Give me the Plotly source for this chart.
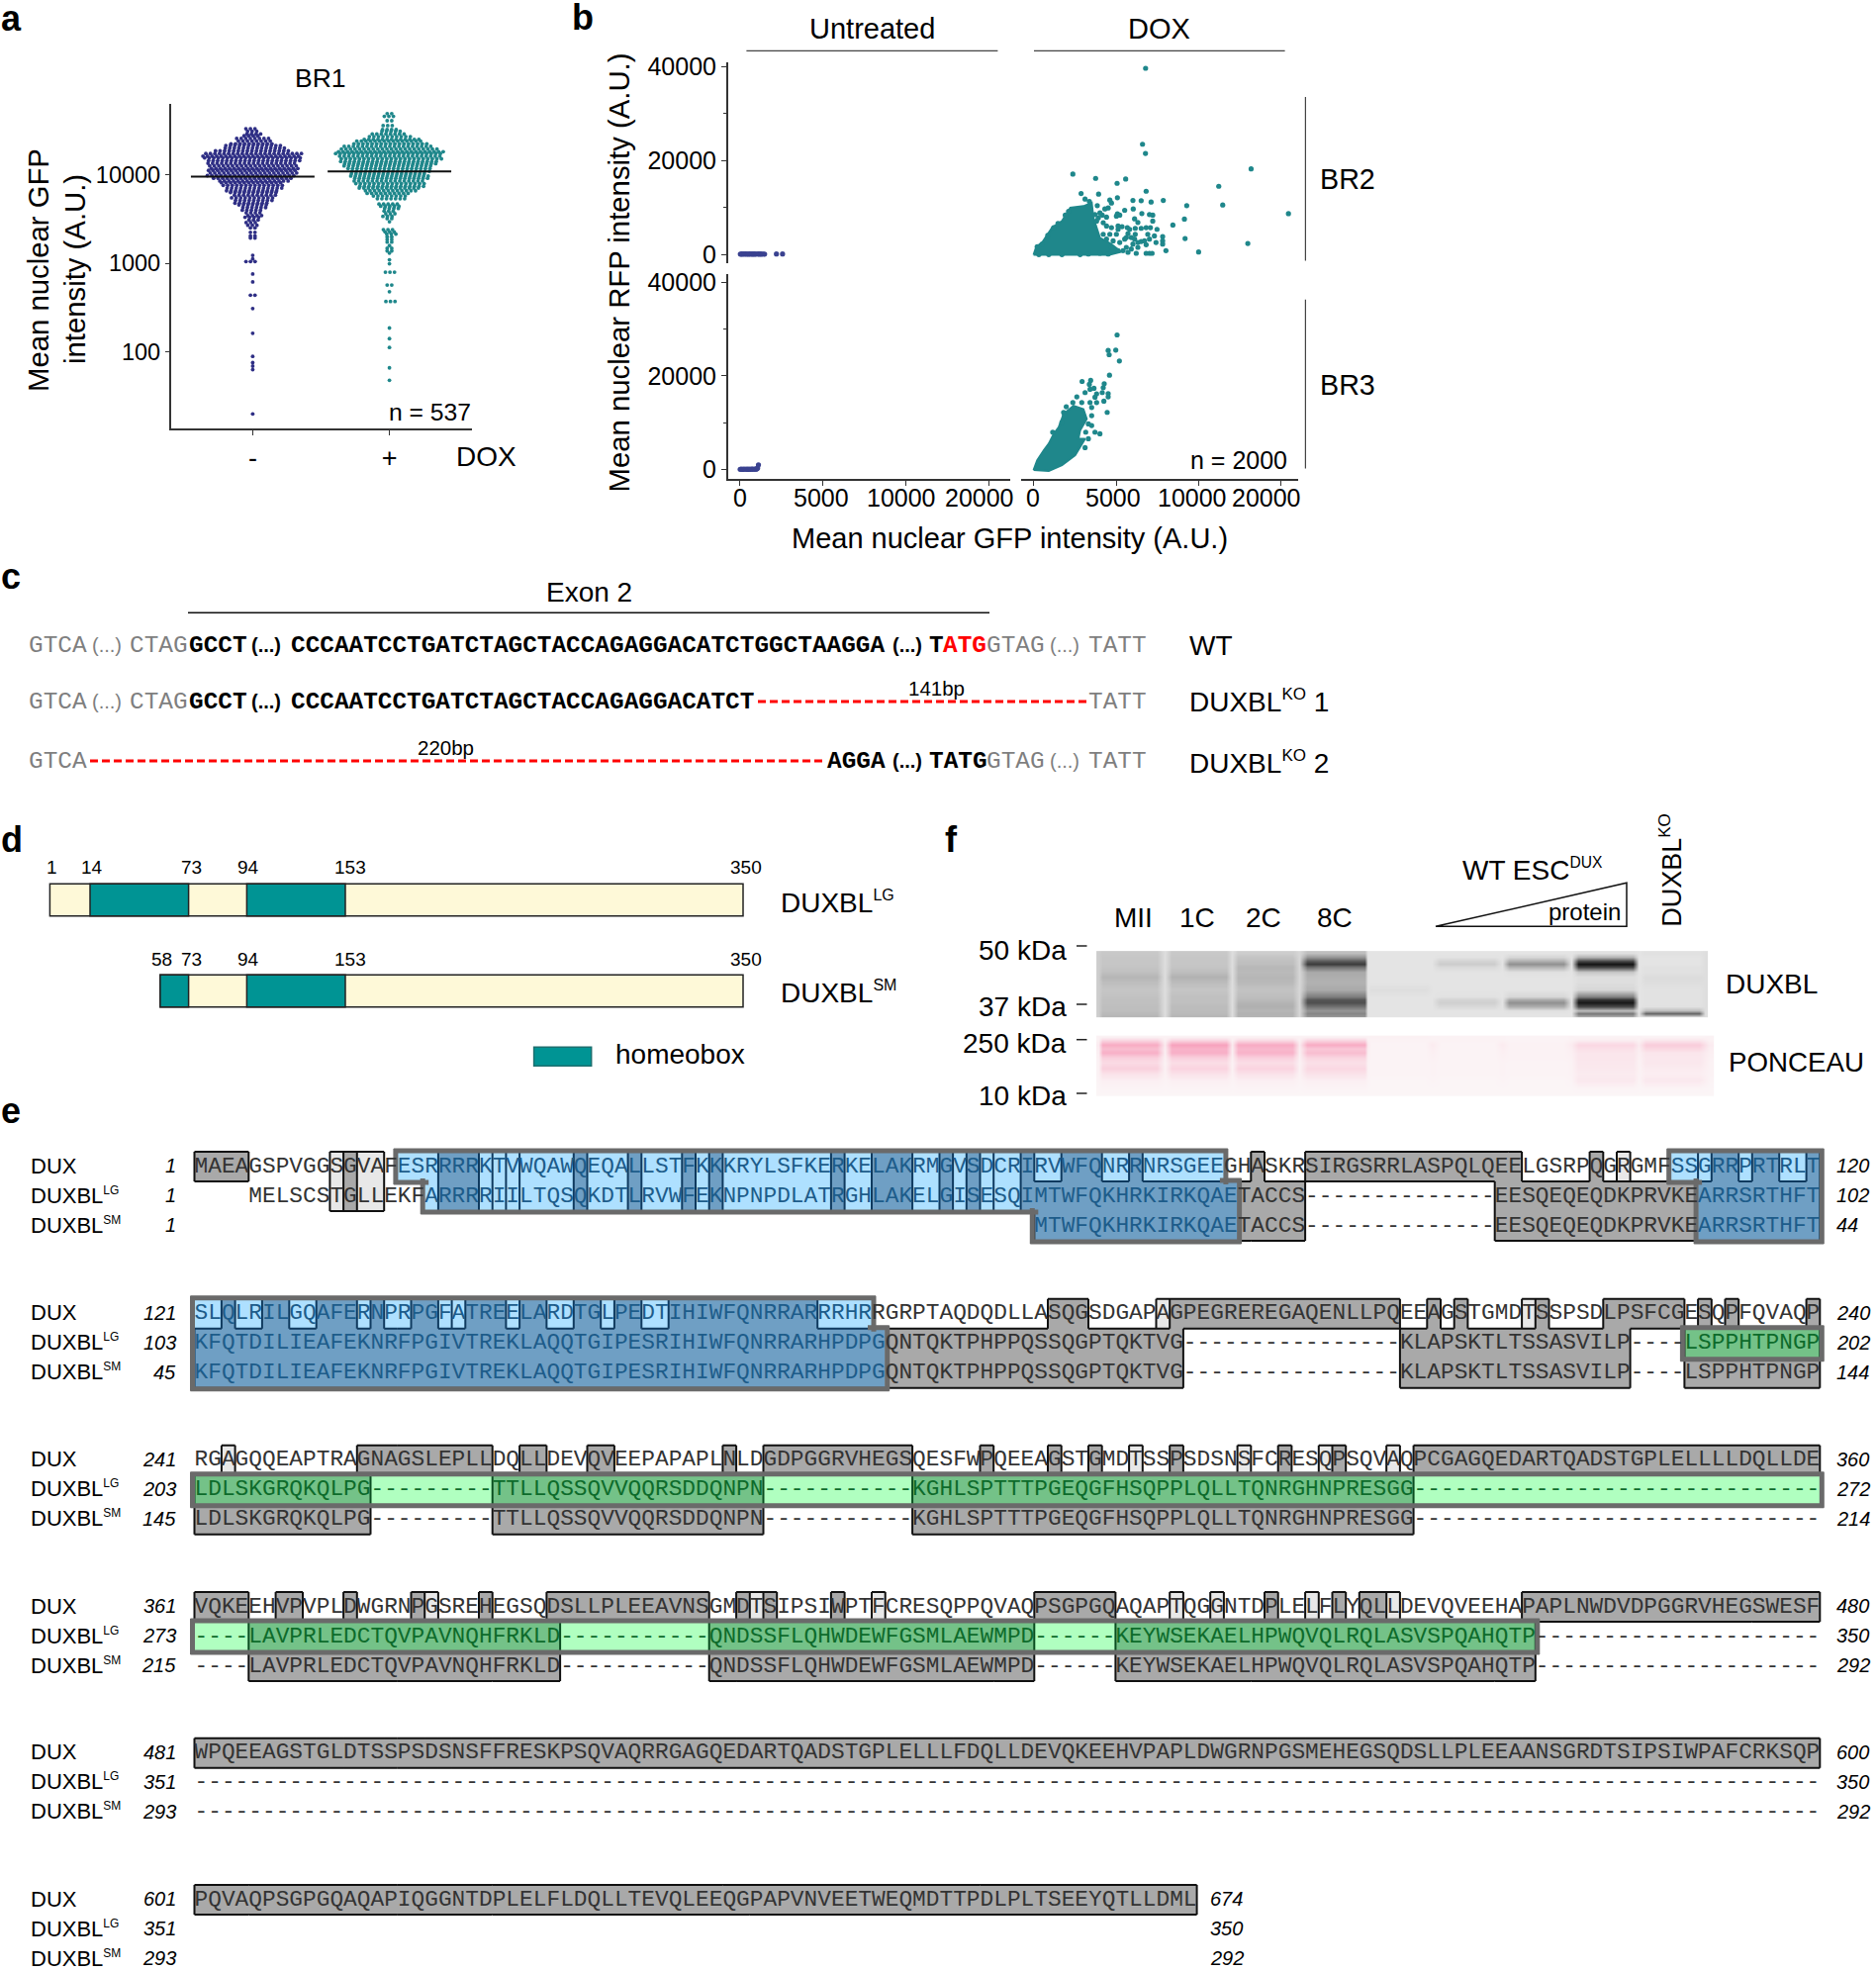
import numpy as np
import plotly.graph_objects as go

W, H = 1896, 1992
SANS = "Liberation Sans"
MONO = "Liberation Mono"
NAVY = "#2f2f85"
TEAL = "#1f878b"
BLUE_B = "#3a4290"

# ---- panel a: rows of the swarm (log10 GFP, dots in the row)
minus_log_gfp = [4.52, 4.49, 4.46, 4.44, 4.41, 4.38, 4.35, 4.33, 4.30, 4.27, 4.24, 4.21, 4.19, 4.16, 4.13, 4.10,
                 4.07, 4.05, 4.02, 3.99, 3.96, 3.93, 3.91, 3.88, 3.85, 3.82, 3.80, 3.77, 3.74, 3.71, 3.68, 3.66,
                 3.63, 3.60, 3.57, 3.54, 3.52, 3.49, 3.46, 3.43, 3.40, 3.35, 3.31, 3.285, 3.09, 3.05, 3.02, 2.88,
                 2.79, 2.64, 2.49, 2.21, 1.95, 1.88, 1.84, 1.80, 1.30]
minus_counts = [3, 3, 4, 4, 8, 8, 10, 13, 14, 17, 22, 22, 22, 21, 20, 20,
                20, 20, 20, 20, 18, 16, 14, 14, 13, 12, 11, 10, 10, 9, 8, 7,
                6, 5, 4, 4, 4, 3, 3, 3, 2, 2, 2, 2, 1, 1, 3, 1,
                1, 2, 1, 1, 1, 1, 1, 1, 1]
plus_log_gfp = [4.69, 4.66, 4.61, 4.555, 4.51, 4.49, 4.46, 4.43, 4.40, 4.38, 4.35, 4.32, 4.29, 4.26, 4.24, 4.21,
                4.18, 4.15, 4.125, 4.10, 4.07, 4.04, 4.01, 3.985, 3.96, 3.93, 3.90, 3.87, 3.85, 3.82, 3.79, 3.76,
                3.73, 3.67, 3.645, 3.62, 3.59, 3.56, 3.53, 3.505, 3.47, 3.38, 3.355, 3.33, 3.30, 3.27, 3.24, 3.20,
                3.17, 3.14, 3.115, 3.04, 2.995, 2.90, 2.755, 2.68, 2.57, 2.27, 2.15, 2.05, 1.82, 1.68]
plus_counts = [2, 3, 2, 3, 4, 5, 8, 10, 13, 15, 17, 20, 22, 24, 24, 23,
               23, 22, 21, 20, 19, 18, 17, 18, 17, 16, 16, 15, 14, 12, 10, 8,
               7, 5, 5, 4, 3, 3, 3, 2, 1, 3, 3, 3, 2, 2, 2, 1,
               2, 2, 1, 1, 1, 3, 2, 1, 3, 1, 1, 1, 1, 1]
median_minus = 9500
median_plus = 10900

# ---- panel b
br2_untreated_gfp = [20, 90, 150, 230, 310, 360, 440, 510, 570, 650, 720, 790, 860, 930, 1010, 1090, 1160, 1240,
                     1310, 1400, 1480, 2190, 2560]
br2_untreated_rfp = [40, 60, 20, 90, 30, 70, 50, 10, 80, 40, 60, 20, 70, 30, 50, 80, 20, 60, 40, 50, 30, 60, 70]
br3_untreated_gfp = [10, 80, 170, 240, 320, 400, 470, 540, 620, 690, 760, 840, 900, 960, 1020, 1060, 1110]
br3_untreated_rfp = [10, 60, 0, 80, 30, 50, 0, 70, 20, 40, 60, 30, 80, 50, 120, 300, 980]

# solid core of each DOX cloud, drawn as one shape; the separate dots follow
br2_dox_hull_gfp = [0, 164, 524, 824, 1124, 1724, 2224, 3024, 3524, 3624, 3824, 4020, 4700, 5300, 4600, 0]
br2_dox_hull_rfp = [-100, 1616, 2529, 4145, 5690, 7095, 9905, 10257, 10959, 7798, 5690, 3500, 2170, 520, -100, -100]
br2_dox_gfp = [6787, 6600, 6780, 2380, 3760, 5060, 5580, 6820, 2880, 3940, 5080, 3120, 3380, 4620, 4720, 6020, 6520,
               7120, 7860, 9280, 11460, 11220, 13180, 4520, 4320, 3860, 5520, 6040, 6560, 7020, 7220, 7220, 5080, 5220,
               5020, 6120, 6320, 4420, 4160, 4020, 9140, 8440, 9180, 12980, 10000, 8020, 7820, 7820, 7820, 7480, 7080,
               6820, 6520, 6160, 5680, 5820, 6920, 7320, 7020, 7420, 6160, 6120, 5620, 5520, 6520, 6820, 6020, 6320,
               6220, 6820, 7020, 7180, 5720, 5120, 4720, 5420, 5020, 5120, 4720, 4420, 4220, 4620, 4220, 4420, 4820,
               5220, 2120, 1920, 1480, 1220, 860, 520, 220, 3820, 3720, 3920, 4520, 3320, 4020, 2820, 1720, 920, 320,
               5360, 5120, 5720, 5920, 6320, 6720, 5620, 5920, 15443]
br2_dox_rfp = [39617, 23450, 21490, 17080, 16170, 15120, 16030, 13440, 12950, 12810, 12040, 11760, 11270, 11550, 10920,
               11480, 11410, 11130, 11480, 10360, 10500, 14490, 18200, 9870, 9660, 10360, 9380, 9660, 8680, 8470, 8330,
               7070, 8610, 8330, 8120, 7560, 6790, 7910, 8330, 8820, 7490, 6230, 3360, 2310, 490, 770, 3780, 2870, 2170,
               5320, 5670, 5670, 5530, 5530, 5670, 5320, 4270, 3920, 3220, 2520, 4270, 3220, 3570, 3220, 2730, 2030,
               2170, 1470, 210, 210, 210, 210, 420, 770, 1470, 770, 4270, 5320, 5670, 6020, 6720, 4270, 4270, 3220, 2870,
               2520, 9170, 8330, 6580, 5670, 4060, 2170, 1610, 7070, 8470, 7770, 70, 70, 210, -70, -70, -70, -70, 5880,
               6020, 4410, 3570, 2520, 2870, 1470, 1120, 8659]

br3_dox_hull_gfp = [0, 220, 620, 920, 1220, 1520, 1820, 2420, 3020, 3220, 2820, 2720, 3120, 2520, 1720, 920, 0]
br3_dox_hull_rfp = [-140, 1970, 4090, 5500, 7610, 9020, 11840, 13600, 12900, 10790, 8320, 6560, 6560, 3030, 920, -350, -140]
br3_dox_gfp = [5060, 4520, 4580, 4980, 5200, 4600, 2940, 3460, 3380, 3420, 4280, 4220, 3660, 4160, 4520, 4520, 3820,
               3720, 3120, 2620, 2380, 1980, 1820, 4260, 4460, 3820, 3420, 3520, 3520, 3320, 3520, 3160, 3720, 4020, 3320,
               3120, 1160, 1720, 1880, 2920]
br3_dox_rfp = [28760, 25450, 24530, 25520, 23200, 20160, 18820, 19040, 18190, 17130, 18330, 17480, 17340, 16430, 16220,
               15510, 16150, 15440, 16430, 15510, 14310, 13400, 12200, 14590, 12200, 14310, 14310, 13250, 11490, 9730,
               9380, 7970, 7970, 7610, 6560, 4650, 7970, 10080, 11490, 14310]

scatter_ticks = [0, 5000, 10000, 15000]
scatter_ticktext = ["0", "5000", "10000", "20000"]

# ---- panel d: residue number and where the schematic draws it
residue_marks = [1, 14, 58, 73, 94, 153, 350]
residue_px = [50.4, 91, 161.9, 190.6, 249.4, 349, 751]
lg_homeobox = [(14, 73), (94, 153)]
sm_homeobox = [(58, 73), (94, 153)]

# ---- panel e
seq_dux = [
    "MAEAGSPVGGSGVAFESRRRRKTVWQAWQEQALLSTFKKKRYLSFKERKELAKRMGVSDCRIRVWFQNRRNRSGEEGHASKRSIRGSRRLASPQLQEELGSRPQGRGMFSSGRRPRTRLT",
    "SLQLRILGQAFERNPRPGFATREELARDTGLPEDTIHIWFQNRRARRRHRRGRPTAQDQDLLASQGSDGAPAGPEGREREGAQENLLPQEEAGSTGMDTSSPSDLPSFCGESQPFQVAQP",
    "RGAGQQEAPTRAGNAGSLEPLLDQLLDEVQVEEPAPAPLNLDGDPGGRVHEGSQESFWPQEEAGSTGMDTSSPSDSNSFCRESQPSQVAQPCGAGQEDARTQADSTGPLELLLLDQLLDE",
    "VQKEEHVPVPLDWGRNPGSREHEGSQDSLLPLEEAVNSGMDTSIPSIWPTFCRESQPPQVAQPSGPGQAQAPTQGGNTDPLELFLYQLLDEVQVEEHAPAPLNWDVDPGGRVHEGSWESF",
    "WPQEEAGSTGLDTSSPSDSNSFFRESKPSQVAQRRGAGQEDARTQADSTGPLELLLFDQLLDEVQKEEHVPAPLDWGRNPGSMEHEGSQDSLLPLEEAANSGRDTSIPSIWPAFCRKSQP",
    "PQVAQPSGPGQAQAPIQGGNTDPLELFLDQLLTEVQLEEQGPAPVNVEETWEQMDTTPDLPLTSEEYQTLLDML",
]
seq_lg = [
    "    MELSCSTGLLEKFARRRRIILTQSQKDTLRVWFEKNPNPDLATRGHLAKELGISESQIMTWFQKHRKIRKQAETACCS--------------EESQEQEQDKPRVKEARRSRTHFT",
    "KFQTDILIEAFEKNRFPGIVTREKLAQQTGIPESRIHIWFQNRRARHPDPGQNTQKTPHPPQSSQGPTQKTVG----------------KLAPSKTLTSSASVILP----LSPPHTPNGP",
    "LDLSKGRQKQLPG---------TTLLQSSQVVQQRSDDQNPN-----------KGHLSPTTTPGEQGFHSQPPLQLLTQNRGHNPRESGG------------------------------",
    "----LAVPRLEDCTQVPAVNQHFRKLD-----------QNDSSFLQHWDEWFGSMLAEWMPD------KEYWSEKAELHPWQVQLRQLASVSPQAHQTP---------------------",
    "-" * 120,
    "",
]
seq_sm = [
    " " * 62 + "MTWFQKHRKIRKQAETACCS--------------EESQEQEQDKPRVKEARRSRTHFT",
    "KFQTDILIEAFEKNRFPGIVTREKLAQQTGIPESRIHIWFQNRRARHPDPGQNTQKTPHPPQSSQGPTQKTVG----------------KLAPSKTLTSSASVILP----LSPPHTPNGP",
    "LDLSKGRQKQLPG---------TTLLQSSQVVQQRSDDQNPN-----------KGHLSPTTTPGEQGFHSQPPLQLLTQNRGHNPRESGG------------------------------",
    "----LAVPRLEDCTQVPAVNQHFRKLD-----------QNDSSFLQHWDEWFGSMLAEWMPD------KEYWSEKAELHPWQVQLRQLASVSPQAHQTP---------------------",
    "-" * 120,
    "",
]
start_numbers = [[1, 1, 1], [121, 103, 45], [241, 203, 145], [361, 273, 215], [481, 351, 293], [601, 351, 293]]
end_numbers = [[120, 102, 44], [240, 202, 144], [360, 272, 214], [480, 350, 292], [600, 350, 292], [674, 350, 292]]
similar_groups = ["ST", "KR", "ILV", "DE", "AL", "AG", "AV", "FW", "FY", "NQ"]
# (block, row, first column, column after the last)
blue_domains = [(0, 0, 15, 76), (0, 0, 109, 120), (0, 1, 17, 77), (0, 1, 111, 120), (0, 2, 62, 77), (0, 2, 111, 120),
                (1, 0, 0, 50), (1, 1, 0, 51), (1, 2, 0, 51)]
green_domains = [(1, 1, 110, 120), (2, 1, 0, 120), (3, 1, 0, 99)]

# ---- panel f: grey value per lane and blot row
blot_rows = [963, 966.7, 970.7, 974, 977.3, 981.7, 986.7, 991.7, 1000, 1006.7, 1010, 1013.3, 1016.7, 1020.7, 1024, 1026.7]
blot_lanes = [
    [200, 198, 198, 198, 196, 192, 182, 190, 198, 194, 192, 192, 190, 190, 186, 182],
    [200, 198, 198, 198, 196, 190, 178, 188, 198, 192, 192, 192, 188, 188, 186, 182],
    [205, 196, 192, 190, 184, 186, 182, 186, 195, 190, 186, 180, 176, 182, 178, 180],
    [190, 150, 90, 60, 115, 170, 175, 178, 170, 125, 85, 80, 115, 150, 135, 150],
    [228, 228, 228, 228, 228, 228, 228, 228, 222, 228, 228, 228, 228, 228, 228, 228],
    [228, 226, 212, 205, 218, 228, 228, 228, 228, 226, 212, 208, 218, 228, 228, 228],
    [228, 215, 175, 145, 180, 225, 228, 228, 228, 215, 170, 145, 175, 225, 228, 228],
    [225, 180, 70, 20, 70, 200, 222, 222, 215, 130, 50, 25, 75, 190, 120, 170],
    [225, 228, 228, 228, 225, 225, 220, 222, 226, 226, 226, 226, 225, 190, 100, 210],
]
blot_gaps = [205, 222, 222, 215, 228, 228, 228, 228, 228, 222]
lane_edges = [(1113.8, 1168.7), (1183.9, 1238.8), (1251, 1305.9), (1321.1, 1379), (1385, 1440),
              (1455.2, 1510), (1525.4, 1580.2), (1595.5, 1650.4), (1662.6, 1717.4)]
gap_px = [1110, 1176.6, 1244.9, 1313.2, 1382, 1447, 1518, 1587.6, 1656.5]
blot_right_gap = 1723
ponceau_right_gap = 1727.5

ponceau_rows = [1048, 1050.7, 1056, 1060, 1064, 1068.3, 1073.3, 1079.3, 1085, 1091.7, 1100, 1105]
ponceau_lanes = [
    [3, 20, 55, 42, 52, 28, 20, 28, 15, 5, 2, 1],
    [3, 20, 62, 50, 52, 28, 18, 25, 15, 5, 2, 1],
    [3, 16, 55, 46, 50, 28, 18, 25, 15, 5, 2, 1],
    [3, 20, 55, 35, 42, 24, 16, 22, 15, 5, 2, 1],
    [4, 3, 2, 2, 2, 2, 2, 2, 2, 1, 1, 1],
    [3, 3, 2, 2, 2, 2, 2, 2, 2, 1, 1, 1],
    [2, 2, 3, 3, 3, 3, 2, 2, 2, 1, 1, 1],
    [2, 5, 22, 16, 12, 12, 11, 10, 8, 10, 2, 1],
    [2, 10, 30, 22, 12, 11, 11, 8, 6, 10, 2, 1],
]
ponceau_gap = [3, 3, 8, 6, 5, 4, 3, 3, 3, 2, 1, 1]

fig = go.Figure()
shapes = []
notes = []


def dom_x(a, b):
    return [a / W, b / W]


def dom_y(top, bottom):
    return [1 - bottom / H, 1 - top / H]


def note(text, x, y, size, anchor="left", color="#000000", angle=0, family=SANS):
    notes.append(dict(text=text, x=x, y=y, xref="x", yref="y", xanchor=anchor, yanchor="middle", showarrow=False,
                      font=dict(size=size, color=color, family=family), textangle=angle, borderpad=0))


def line(x0, y0, x1, y1, color="#222222", width=1.5, dash="solid"):
    shapes.append(dict(type="line", x0=x0, y0=y0, x1=x1, y1=y1, xref="x", yref="y",
                       line=dict(color=color, width=width, dash=dash)))


def rect(x0, y0, x1, y1, fill, edge="#222222", width=1.5):
    shapes.append(dict(type="rect", x0=x0, y0=y0, x1=x1, y1=y1, xref="x", yref="y", fillcolor=fill,
                       line=dict(color=edge, width=width)))


# canvas in page pixels, for everything that is not a real plot
fig.update_layout(
    xaxis=dict(domain=[0, 1], range=[0, W], visible=False, fixedrange=True),
    yaxis=dict(domain=[0, 1], range=[H, 0], visible=False, fixedrange=True),
)

for letter, x, y in [("a", 0, 18), ("b", 577, 17), ("c", 0, 582), ("d", 0, 848), ("e", 0, 1122), ("f", 954, 848)]:
    note("<b>" + letter + "</b>", x, y, 36)


# ---- panel a
def swarm(center, levels, counts):
    xs, ys = [], []
    for i, (level, n) in enumerate(zip(levels, counts)):
        shift = (i * 0.37) % 1 - 0.5 if n > 2 else 0
        for k in range(n):
            xs.append(center + (k - (n - 1) / 2 + shift) * 4.6 / 138.2)
            ys.append(10 ** level)
    return xs, ys


for center, levels, counts, color, median in [(0, minus_log_gfp, minus_counts, NAVY, median_minus),
                                              (1, plus_log_gfp, plus_counts, TEAL, median_plus)]:
    xs, ys = swarm(center, levels, counts)
    fig.add_trace(go.Scatter(x=xs, y=ys, mode="markers", marker=dict(size=3.8, color=color), xaxis="x2", yaxis="y2"))
    fig.add_trace(go.Scatter(x=[center - 0.452, center + 0.452], y=[median, median], mode="lines",
                             line=dict(color="#111111", width=2), xaxis="x2", yaxis="y2"))

fig.update_layout(
    xaxis2=dict(domain=dom_x(172.9, 476.8), range=[-0.597, 1.602], anchor="y2", showline=True, linecolor="#333333",
                linewidth=2, ticks="outside", ticklen=5, tickcolor="#333333", tickvals=[0, 1], ticktext=["-", "+"],
                tickfont=dict(size=27, family=SANS, color="#000"), showgrid=False, zeroline=False, fixedrange=True),
    yaxis2=dict(domain=dom_y(105, 433), type="log", range=[1.136, 4.80], anchor="x2", showline=True,
                linecolor="#333333", linewidth=2, ticks="outside", ticklen=4, tickcolor="#333333",
                tickvals=[100, 1000, 10000], ticktext=["100", "1000", "10000"],
                tickfont=dict(size=23.5, family=SANS, color="#000"), showgrid=False, zeroline=False, fixedrange=True),
)
note("BR1", 324, 79, 26.5, "center")
note("Mean nuclear GFP", 38, 273, 29.3, "center", angle=-90)
note("intensity (A.U.)", 75, 272, 29.3, "center", angle=-90)
note("n = 537", 476.8, 416.7, 24.7, "right")
note("DOX", 491, 461, 28, "center")

# ---- panel b
axis_line = dict(showline=True, linecolor="#333333", linewidth=2, ticks="outside", ticklen=5, tickcolor="#333333",
                 showgrid=False, zeroline=False, fixedrange=True, tickfont=dict(size=25, family=SANS, color="#000"))
for name, anchor, dom, rng in [("xaxis3", "y3", (736, 1020.5), (-708, 16226)), ("xaxis4", "y4", (1031.5, 1312.3), (-785, 16049))]:
    fig.update_layout({name: dict(domain=dom_x(*dom), range=list(rng), anchor=anchor, visible=False)})
for name, anchor, dom, rng in [("xaxis5", "y5", (736, 1020.5), (-708, 16226)), ("xaxis6", "y6", (1031.5, 1312.3), (-785, 16049))]:
    fig.update_layout({name: dict(domain=dom_x(*dom), range=list(rng), anchor=anchor, tickvals=scatter_ticks,
                                  showticklabels=False, **axis_line)})
top_dom = dom_y(62.5, 266)
low_dom = dom_y(277.4, 483.5)
y_ticks = dict(tickvals=[0, 20000, 40000], ticktext=["0", "20000", "40000"],
               minor=dict(tickvals=[10000, 30000], ticks="outside", ticklen=3, tickcolor="#333333"))
fig.update_layout(
    yaxis3=dict(domain=top_dom, range=[-1897, 40990], anchor="x3", **y_ticks, **axis_line),
    yaxis4=dict(domain=top_dom, range=[-1897, 40990], anchor="x4", visible=False),
    yaxis5=dict(domain=low_dom, range=[-1926, 41693], anchor="x5", **y_ticks, **axis_line),
    yaxis6=dict(domain=low_dom, range=[-1926, 41693], anchor="x6", visible=False),
)
for gfp, rfp, xa, ya in [(br2_dox_hull_gfp, br2_dox_hull_rfp, "x4", "y4"), (br3_dox_hull_gfp, br3_dox_hull_rfp, "x6", "y6")]:
    fig.add_trace(go.Scatter(x=gfp, y=rfp, mode="lines", fill="toself", fillcolor=TEAL, line=dict(color=TEAL, width=2),
                             xaxis=xa, yaxis=ya))
for gfp, rfp, color, xa, ya in [(br2_untreated_gfp, br2_untreated_rfp, BLUE_B, "x3", "y3"),
                                (br2_dox_gfp, br2_dox_rfp, TEAL, "x4", "y4"),
                                (br3_untreated_gfp, br3_untreated_rfp, BLUE_B, "x5", "y5"),
                                (br3_dox_gfp, br3_dox_rfp, TEAL, "x6", "y6")]:
    fig.add_trace(go.Scatter(x=gfp, y=rfp, mode="markers", marker=dict(size=5.2, color=color), xaxis=xa, yaxis=ya))

# the reference squeezes its x labels inwards, off their ticks
for label, x in zip(scatter_ticktext, [747.5, 829.7, 910.6, 989.7]):
    note(label, x, 503, 25, "center")
for label, x in zip(scatter_ticktext, [1043.5, 1124.7, 1204.7, 1279.9]):
    note(label, x, 503, 25, "center")
note("Untreated", 881, 29, 29, "center")
note("DOX", 1171, 29, 29, "center")
line(754.4, 51.3, 1008.4, 51.3, "#444444", 1.2)
line(1045, 51.3, 1298.6, 51.3, "#444444", 1.2)
line(1319.4, 98, 1319.4, 263.5, "#444444", 1.2)
line(1319.4, 302.8, 1319.4, 473.6, "#444444", 1.2)
note("BR2", 1332.5, 180.7, 28.7)
note("BR3", 1332.5, 389, 28.7)
note("n = 2000", 1302, 464.6, 25, "right")
note("Mean nuclear GFP intensity (A.U.)", 1020.5, 544, 29, "center")
note("Mean nuclear RFP intensity (A.U.)", 624.5, 276, 29.3, "center", angle=-90)

# ---- panel c
GREY = "#7f7f7f"
DOTS = "(...)"
row_wt = [("GTCA", 28.4, 0), (DOTS, 92, 0), ("CTAG", 130, 0), ("GCCT", 190, 1), (DOTS, 253, 1),
          ("CCCAATCCTGATCTAGCTACCAGAGGACATCTGGCTAAGGA", 292.6, 1), (DOTS, 901, 1), ("T", 938, 1), ("ATG", 951.6, 2),
          ("GTAG", 996, 0), (DOTS, 1060, 0), ("TATT", 1098.9, 0)]
row_ko1 = [("GTCA", 28.4, 0), (DOTS, 92, 0), ("CTAG", 130, 0), ("GCCT", 190, 1), (DOTS, 253, 1),
           ("CCCAATCCTGATCTAGCTACCAGAGGACATCT", 292.6, 1), ("TATT", 1098.9, 0)]
row_ko2 = [("GTCA", 28.4, 0), ("AGGA", 834.6, 1), (DOTS, 901, 1), ("TATG", 938, 1), ("GTAG", 996, 0), (DOTS, 1060, 0),
           ("TATT", 1098.9, 0)]
for y, row in [(652, row_wt), (709, row_ko1), (769, row_ko2)]:
    for text, x, style in row:
        color = [GREY, "#000000", "#ff0000"][style]
        label = text if style == 0 else "<b>" + text + "</b>"
        if text == DOTS:
            note(label, x, y, 20, color=color)
        else:
            note(label, x, y, 24.4, color=color, family=MONO)
note("Exon 2", 595.5, 598, 28, "center")
line(190, 619.3, 1000, 619.3, "#111111", 1.5)
line(766, 709, 1098, 709, "#ff0000", 3, "8px,4px")
line(91, 769, 835, 769, "#ff0000", 3, "8px,4px")
note("141bp", 946, 695, 20.5, "center")
note("220bp", 450, 755, 20.5, "center")
KO = "<sup><span style='font-size:17px'>KO</span></sup>"
note("WT", 1201, 652.7, 28)
note("DUXBL" + KO + " 1", 1201, 708, 28)
note("DUXBL" + KO + " 2", 1201, 770, 28)


# ---- panel d
def res_x(res):
    return residue_px[residue_marks.index(res)]


CREAM = "#fef9d8"
HOMEO = "#009494"
for y0, first, boxes in [(893.3, 1, lg_homeobox), (985.3, 58, sm_homeobox)]:
    rect(res_x(first), y0, res_x(350), y0 + 32.4, CREAM)
    for a, b in boxes:
        rect(res_x(a), y0, res_x(b), y0 + 32.4, HOMEO)
numbers_lg = [(1, 52), (14, 93), (73, 193), (94, 251), (153, 354), (350, 753.6)]
numbers_sm = [(58, 163.7), (73, 193), (94, 251), (153, 354), (350, 753.6)]
for res, x in numbers_lg:
    note(str(res), x, 876, 19, "center")
for res, x in numbers_sm:
    note(str(res), x, 969, 19, "center")
note("DUXBL<sup><span style='font-size:16px'>LG</span></sup>", 787.5, 911.7, 28)
note("DUXBL<sup><span style='font-size:16px'>SM</span></sup>", 787.5, 1003, 28)
rect(539.6, 1058.3, 597.7, 1077.3, HOMEO, "#1c6f6f")
note("homeobox", 620.5, 1065, 28)

# ---- panel e
COL_X0, COL_W, ROW_H = 196.5, 13.69, 30
block_tops = [1164, 1312.7, 1460.7, 1609, 1756.7, 1905]
FILLS = {None: {1: "#e8e8e8", 2: "#a9a9a9"},
         "blue": {0: "#aee0ff", 1: "#aee0ff", 2: "#6f9fc4"},
         "green": {0: "#b0ffc0", 1: "#b0ffc0", 2: "#74c288"}}
EDGES = {None: "#111111", "blue": "#0f3a5f", "green": "#0a4d20"}
TEXTS = {None: "#333333", "blue": "#1d5c8a", "green": "#0d6b2b"}


def is_similar(a, b):
    return any(a in g and b in g for g in similar_groups)


def statuses(dux, lg, sm):
    n = len(dux)
    lg = lg.ljust(n)
    sm = sm.ljust(n)
    grid = [[0] * n for _ in range(3)]
    for c in range(n):
        d, l, s = dux[c], lg[c], sm[c]
        lg_res = l not in " -"
        sm_res = s not in " -"
        if not lg_res or d == l:
            grid[0][c] = 2
        elif is_similar(d, l):
            grid[0][c] = 1
        if lg_res:
            if (sm_res and s == l) or d == l:
                grid[1][c] = 2
            elif is_similar(d, l):
                grid[1][c] = 1
        if sm_res and s == l:
            grid[2][c] = 2
    return grid, [dux, lg, sm]


def domain_of(block, row, col):
    for b, r, c0, c1 in blue_domains:
        if b == block and r == row and c0 <= col < c1:
            return "blue"
    for b, r, c0, c1 in green_domains:
        if b == block and r == row and c0 <= col < c1:
            return "green"
    return None


letters = {None: ([], [], []), "blue": ([], [], []), "green": ([], [], [])}
for b, top in enumerate(block_tops):
    grid, rows = statuses(seq_dux[b], seq_lg[b], seq_sm[b])
    n = len(seq_dux[b])
    fill_paths = {}
    edge_paths = {}
    thick = []
    for r in range(3):
        y0 = top + r * ROW_H
        y1 = y0 + ROW_H
        c = 0
        while c < n:
            key = (domain_of(b, r, c), grid[r][c])
            c_end = c
            while c_end + 1 < n and (domain_of(b, r, c_end + 1), grid[r][c_end + 1]) == key:
                c_end += 1
            dom, st = key
            if st in FILLS[dom]:
                x0 = COL_X0 + c * COL_W
                x1 = COL_X0 + (c_end + 1) * COL_W
                color = FILLS[dom][st]
                fill_paths[color] = fill_paths.get(color, "") + f"M{x0:.1f},{y0:.1f}L{x1:.1f},{y0:.1f}L{x1:.1f},{y1:.1f}L{x0:.1f},{y1:.1f}Z"
            c = c_end + 1
        for c in range(n):
            x0 = COL_X0 + c * COL_W
            x1 = x0 + COL_W
            st = grid[r][c]
            dom = domain_of(b, r, c)
            # dark borders where the shading changes
            right = grid[r][c + 1] if c + 1 < n else 0
            down = grid[r + 1][c] if r < 2 else 0
            edge = EDGES[dom]
            seg = edge_paths.get(edge, "")
            if st != right:
                seg += f"M{x1:.1f},{y0:.1f}L{x1:.1f},{y1:.1f}"
            if st != down:
                seg += f"M{x0:.1f},{y1:.1f}L{x1:.1f},{y1:.1f}"
            if c == 0 and st:
                seg += f"M{x0:.1f},{y0:.1f}L{x0:.1f},{y1:.1f}"
            if r == 0 and st:
                seg += f"M{x0:.1f},{y0:.1f}L{x1:.1f},{y0:.1f}"
            if seg:
                edge_paths[edge] = seg
            # grey frame round the DNA-binding and green regions
            if dom:
                if domain_of(b, r, c + 1) != dom or c + 1 >= n:
                    thick.append(f"M{x1 + 2:.1f},{y0 - 3:.1f}L{x1 + 2:.1f},{y1 + 3:.1f}")
                if c == 0 or domain_of(b, r, c - 1) != dom:
                    thick.append(f"M{x0 - 2:.1f},{y0 - 3:.1f}L{x0 - 2:.1f},{y1 + 3:.1f}")
                if r == 0 or domain_of(b, r - 1, c) != dom:
                    thick.append(f"M{x0 - 4:.1f},{y0 - 1:.1f}L{x1 + 4:.1f},{y0 - 1:.1f}")
                if r == 2 or domain_of(b, r + 1, c) != dom:
                    thick.append(f"M{x0 - 4:.1f},{y1 + 1:.1f}L{x1 + 4:.1f},{y1 + 1:.1f}")
            ch = rows[r][c]
            if ch != " ":
                xs, ys, ts = letters[dom]
                xs.append(COL_X0 + (c + 0.5) * COL_W)
                ys.append(y0 + ROW_H / 2)
                ts.append(ch)
    for color, path in fill_paths.items():
        shapes.append(dict(type="path", path=path, xref="x", yref="y", fillcolor=color, line=dict(width=0), layer="below"))
    for color, path in edge_paths.items():
        shapes.append(dict(type="path", path=path, xref="x", yref="y", line=dict(color=color, width=2), layer="below"))
    if thick:
        shapes.append(dict(type="path", path="".join(thick), xref="x", yref="y", line=dict(color="#6a6a6a", width=5), layer="below"))
    # row names and residue numbers
    end_x = 1855 if b < 5 else 1222
    for r, name in enumerate(["DUX", "DUXBL<sup><span style='font-size:12px'>LG</span></sup>",
                              "DUXBL<sup><span style='font-size:12px'>SM</span></sup>"]):
        yc = top + ROW_H * (r + 0.5) - 1
        note(name, 30.3, yc, 22)
        note("<i>" + str(start_numbers[b][r]) + "</i>", 178.8, yc, 20, "right")
        note("<i>" + str(end_numbers[b][r]) + "</i>", end_x, yc, 20)

for dom, (xs, ys, ts) in letters.items():
    fig.add_trace(go.Scatter(x=xs, y=ys, text=ts, mode="text", textposition="middle center",
                             textfont=dict(family=MONO, size=22.8, color=TEXTS[dom]), xaxis="x", yaxis="y"))


# ---- panel f
def lanes_to_matrix(lanes, gap, right_gap, n_rows):
    xs, z = [], [[] for _ in range(n_rows)]
    for i in range(len(lanes) + 1):
        xs.append(gap_px[i] if i < len(lanes) else right_gap)
        for r in range(n_rows):
            z[r].append(gap[i] if isinstance(gap[i], (int, float)) else gap[i][r])
        if i < len(lanes):
            xs.extend(lane_edges[i])
            for r in range(n_rows):
                z[r].extend([lanes[i][r], lanes[i][r]])
    return xs, z


blot_x, blot_z = lanes_to_matrix(blot_lanes, blot_gaps, blot_right_gap, len(blot_rows))
fig.add_trace(go.Heatmap(x=blot_x, y=blot_rows, z=blot_z, zmin=0, zmax=255, zsmooth="best", showscale=False,
                         colorscale=[[0, "#000000"], [1, "#ffffff"]], xaxis="x", yaxis="y", hoverinfo="skip"))
pon_x, pon_z = lanes_to_matrix(ponceau_lanes, [ponceau_gap] * 10, ponceau_right_gap, len(ponceau_rows))
fig.add_trace(go.Heatmap(x=pon_x, y=ponceau_rows, z=pon_z, zmin=0, zmax=100, zsmooth="best", showscale=False,
                         colorscale=[[0, "#fbf6f7"], [1, "#f56f9b"]], xaxis="x", yaxis="y", hoverinfo="skip"))

for label, x in [("MII", 1145), ("1C", 1210), ("2C", 1276.6), ("8C", 1349)]:
    note(label, x, 927, 28, "center")
note("WT ESC<sup><span style='font-size:15.6px'>DUX</span></sup>", 1549, 879, 28, "center")
shapes.append(dict(type="path", path="M1451,936.3L1644,936.3L1644,892.3Z", xref="x", yref="y", fillcolor="#ffffff",
                   line=dict(color="#111111", width=1.5)))
note("protein", 1639.4, 921.7, 24, "right")
note("DUXBL<sup><span style='font-size:17px'>KO</span></sup>", 1688.8, 879, 27, "center", angle=-90)
for label, y_text, y_tick in [("50 kDa", 960, 956), ("37 kDa", 1017, 1015), ("250 kDa", 1054, 1050.7), ("10 kDa", 1107.7, 1105)]:
    note(label, 1079, y_text, 28, "right")
    line(1088, y_tick, 1098.5, y_tick, "#222222", 1.5)
note("DUXBL", 1743, 994, 28)
note("PONCEAU", 1746, 1073, 27.7)

fig.update_layout(width=W, height=H, margin=dict(l=0, r=0, t=0, b=0, autoexpand=False), showlegend=False,
                  plot_bgcolor="white", paper_bgcolor="white", font=dict(family=SANS, color="#000000"), shapes=shapes,
                  annotations=notes, hovermode=False)

fig.write_html("out.html", config={"displayModeBar": False}, post_script="document.body.style.margin='0';")
